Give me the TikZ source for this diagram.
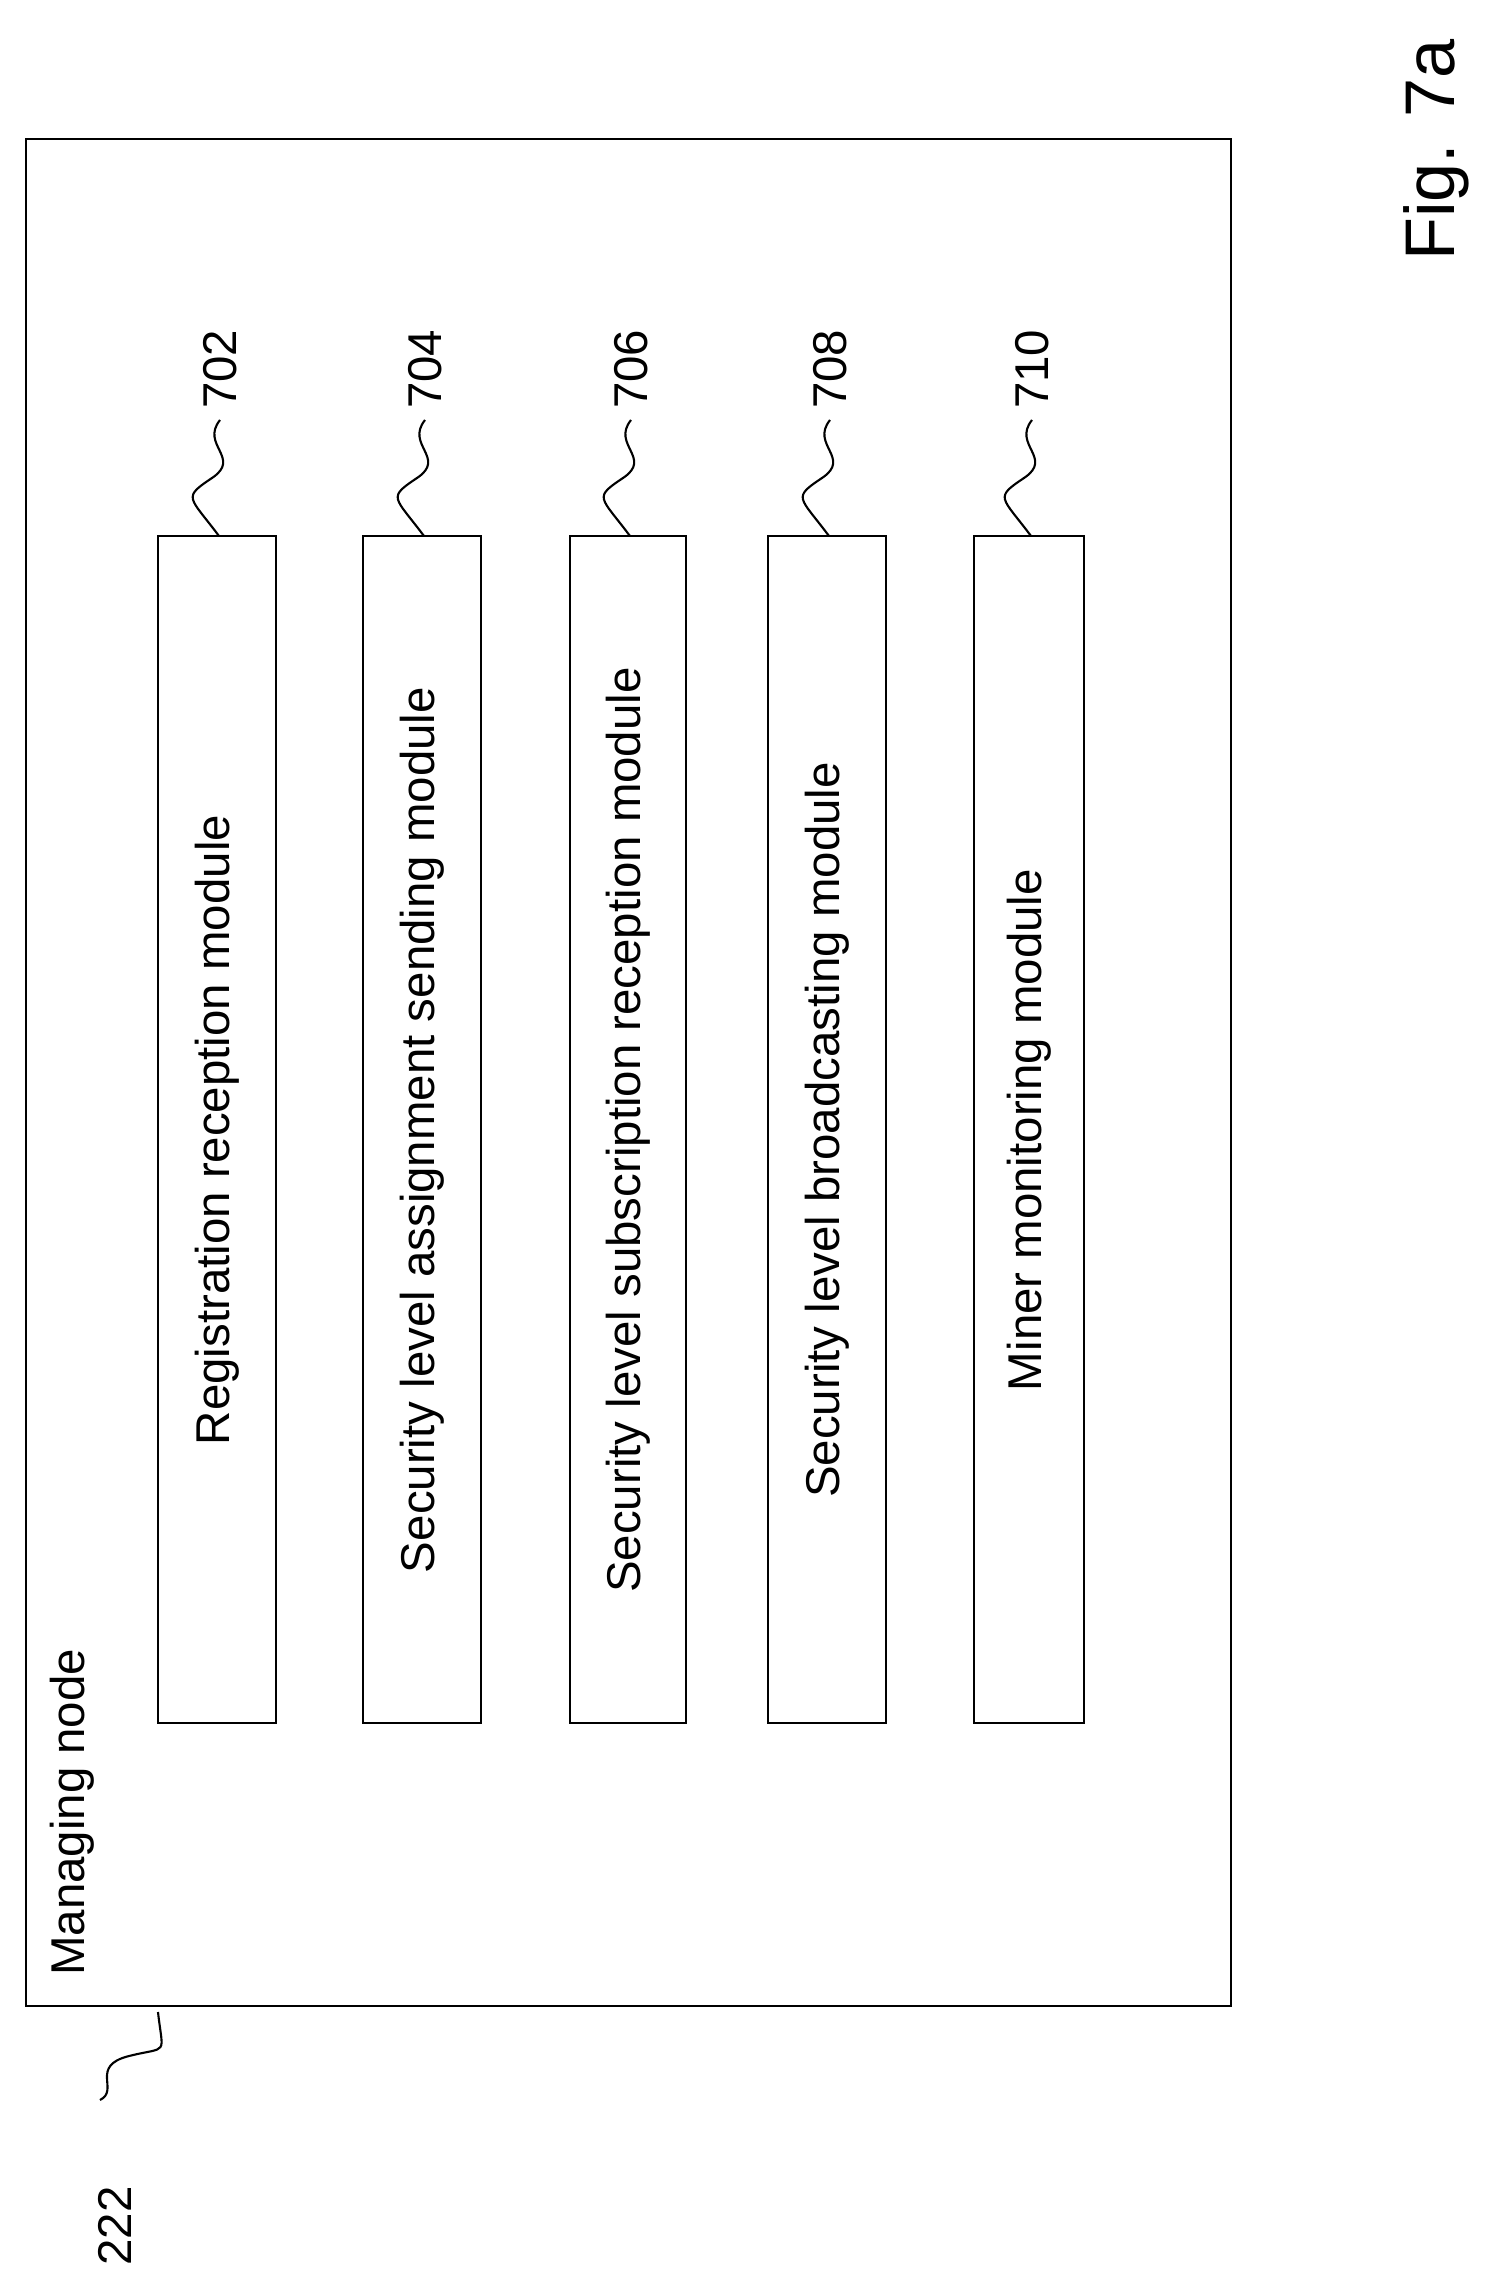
\documentclass[tikz,border=0pt]{standalone}
\usetikzlibrary{calc}
\usepackage{fontspec}
\setmainfont{Liberation Sans}
\begin{document}
\begin{tikzpicture}[x=0.02cm,y=-0.02cm,
  box/.style={draw,line width=1.4pt},
  lbl/.style={font=\fontsize{27}{31}\selectfont,rotate=90},
  sq/.style={line width=1.2pt}]
\useasboundingbox (0,0) rectangle (1505,2274);
\draw[box] (26,139) rectangle (1231,2006);
\node[lbl,anchor=west] (mn) at (72,1982) {Managing node};
\foreach \i/\xa/\xb/\t/\n in {1/158/276/Registration reception module/702,
  2/363/481/Security level assignment sending module/704,
  3/570/686/Security level subscription reception module/706,
  4/768/886/Security level broadcasting module/708,
  5/974/1084/Miner monitoring module/710}{
  \draw[box] (\xa,536) rectangle (\xb,1723);
  \node[lbl] (m\i) at ({(\xa+\xb)/2},1130) {\t};
  \coordinate (s\i) at ({(\xa+\xb)/2+2},536);
  \coordinate (e\i) at ({(\xa+\xb)/2+2-14},420);
  \draw[sq] (s\i) .. controls ++(-30,-40) and ++(-30,20) .. ($(s\i)!0.5!(e\i)$) .. controls ++(30,-20) and ++(-20,25) .. ($(e\i)+(15,0)$);
  \node[lbl,anchor=west] (n\i) at ($(e\i)+(15,-5)$) {\n};
}
\coordinate (a) at (158,2012);
\coordinate (b) at (100,2100);
\draw[sq] (a) .. controls ++(5,45) and ++(40,-10) .. ($(a)!0.5!(b)$) .. controls ++(-40,10) and ++(20,-10) .. (b);
\node[lbl,anchor=east] (n222) at (115,2180) {222};
\node[font=\fontsize{40}{44}\selectfont,rotate=90] (fig) at (1436,150) {Fig. 7a};
\end{tikzpicture}
\end{document}
